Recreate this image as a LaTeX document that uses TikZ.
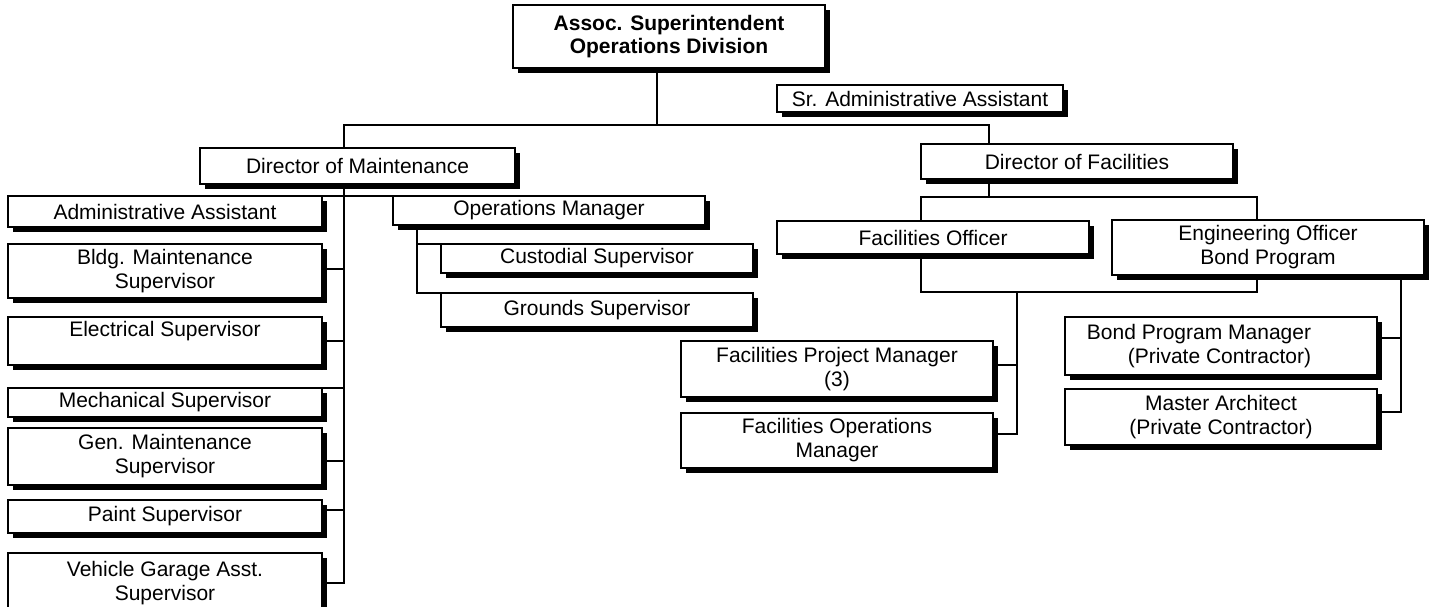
\documentclass[tikz,border=0pt]{standalone}
\usepackage{fontspec}
\setmainfont{Liberation Sans}
\usetikzlibrary{shadows,backgrounds}
\begin{document}
\begin{tikzpicture}[x=1pt,y=-1pt,
  orgbox/.style={draw, line width=2pt, fill=white, inner sep=0pt, outer sep=0pt,
    align=center, anchor=north west,
    font=\fontsize{21}{24}\selectfont,
    general shadow={fill=black, shadow xshift=5pt, shadow yshift=-5pt}},
  link/.style={line width=2pt, line cap=rect}]
\useasboundingbox (0,0) rectangle (1434,606);

% head of division
\node[orgbox, minimum width=312pt, minimum height=63pt, font=\fontsize{21}{23.5}\selectfont\bfseries]
  (top) at (513,5) {Assoc. Superintendent\\Operations Division};
\node[orgbox, minimum width=286pt, minimum height=27pt] (sr) at (777,85) {Sr. Administrative Assistant};

% maintenance branch
\node[orgbox, minimum width=315pt, minimum height=36pt] (dm) at (200,148) {Director of Maintenance};
\node[orgbox, minimum width=314pt, minimum height=31pt] (adm) at (8,196) {Administrative Assistant};
\node[orgbox, minimum width=314pt, minimum height=54pt] (bm) at (8,244) {Bldg. Maintenance\\Supervisor};
\node[orgbox, minimum width=314pt, minimum height=48pt] (el) at (8,317) {Electrical Supervisor\\\phantom{S}};
\node[orgbox, minimum width=314pt, minimum height=29pt] (me) at (8,388) {Mechanical Supervisor};
\node[orgbox, minimum width=314pt, minimum height=57pt] (gm) at (8,428) {Gen. Maintenance\\Supervisor};
\node[orgbox, minimum width=314pt, minimum height=33pt] (pa) at (8,500) {Paint Supervisor};
\node[orgbox, minimum width=314pt, minimum height=60pt] (ve) at (8,553) {Vehicle Garage Asst.\\Supervisor};
\node[orgbox, minimum width=312pt, minimum height=29pt] (om) at (393,196) {Operations Manager};
\node[orgbox, minimum width=312pt, minimum height=29pt] (cu) at (441,244) {Custodial Supervisor};
\node[orgbox, minimum width=312pt, minimum height=34pt] (gr) at (441,293) {Grounds Supervisor};

% facilities branch
\node[orgbox, minimum width=312pt, minimum height=35pt] (df) at (921,144) {Director of Facilities};
\node[orgbox, minimum width=312pt, minimum height=33pt] (fo) at (777,221) {Facilities Officer};
\node[orgbox, minimum width=312pt, minimum height=55pt] (eo) at (1112,220) {Engineering Officer\\Bond Program};
\node[orgbox, minimum width=312pt, minimum height=56pt] (fpm) at (681,341) {Facilities Project Manager\\(3)};
\node[orgbox, minimum width=312pt, minimum height=55pt] (fom) at (681,413) {Facilities Operations\\Manager};
\node[orgbox, minimum width=312pt, minimum height=58pt, align=right] (bpm) at (1065,317)
  {Bond Program Manager\rule{44pt}{0pt}\\(Private Contractor)\rule{44pt}{0pt}};
\node[orgbox, minimum width=312pt, minimum height=56pt] (ma) at (1065,389) {Master Architect\\(Private Contractor)};

\begin{pgfonlayer}{background}
  % upper bus
  \coordinate (busA) at (657,125);
  \coordinate (mL) at (344,125);
  \coordinate (fR) at (989,125);
  \draw[link] (top.south -| busA) -- (busA);
  \draw[link] (mL) -- (fR);
  \draw[link] (mL) -- (mL |- dm.north);
  \draw[link] (fR) -- (fR |- df.north);

  % maintenance trunk
  \draw[link] (mL |- dm.south) -- (mL |- ve.east) -- (ve.east);
  \draw[link] (adm.north east) -- (om.north west);
  \draw[link] ([yshift=2pt]bm.east) -- ([yshift=2pt]bm.east -| mL);
  \draw[link] (el.east) -- (el.east -| mL);
  \draw[link] (me.north east) -- (me.north east -| mL);
  \draw[link] ([yshift=-4pt]gm.east) -- ([yshift=-4pt]gm.east -| mL);
  \draw[link] ([yshift=7pt]pa.east) -- ([yshift=7pt]pa.east -| mL);

  % operations manager
  \draw[link] ([xshift=24pt]om.south west) |- (cu.north west);
  \draw[link] ([xshift=24pt]om.south west) |- (gr.north west);

  % facilities officers
  \coordinate (fBL) at (921,197);
  \coordinate (fBR) at (1257,197);
  \draw[link] (df.south -| fR) -- (fR |- fBL);
  \draw[link] (fBL |- fo.north) -- (fBL) -- (fBR) -- (fBR |- eo.north);
  \coordinate (gL) at (921,292);
  \coordinate (gR) at (1257,292);
  \draw[link] (gL |- fo.south) -- (gL) -- (gR) -- (gR |- eo.south);
  \coordinate (gD) at (1017,292);
  \draw[link] (gD) |- ([yshift=4pt]fpm.east);
  \draw[link] (gD) |- ([yshift=7pt]fom.east);

  % bond program
  \coordinate (eR) at (1401,276);
  \draw[link] (eo.south -| eR) |- ([yshift=8pt]bpm.east);
  \draw[link] (eo.south -| eR) |- ([yshift=5pt]ma.east);
\end{pgfonlayer}
\end{tikzpicture}
\end{document}
